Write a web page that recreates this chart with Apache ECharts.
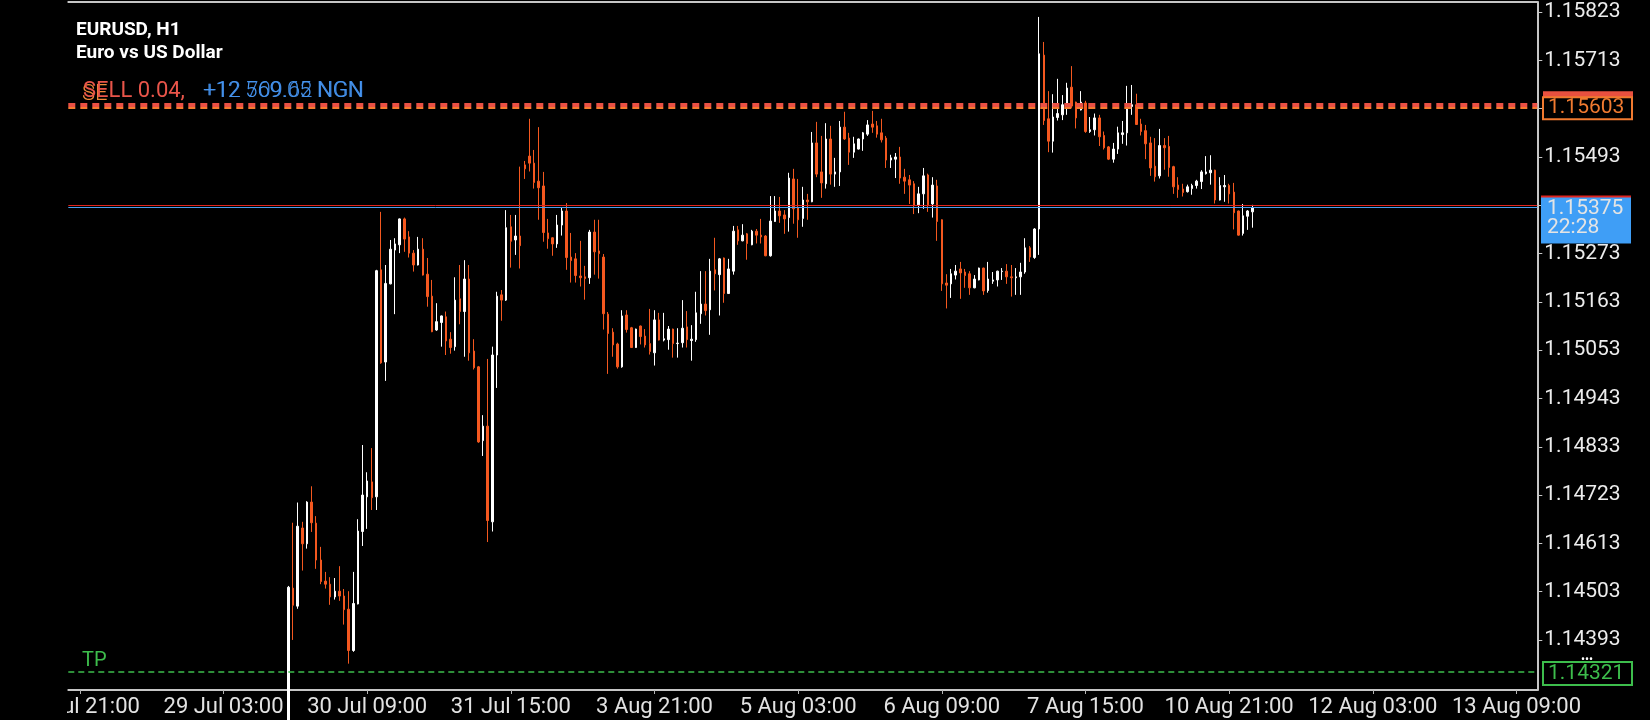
<!DOCTYPE html>
<html><head><meta charset="utf-8">
<script src="https://cdn.jsdelivr.net/npm/echarts@6/dist/echarts.min.js"></script>
<style>html,body{margin:0;padding:0;background:#000;}#c{width:1650px;height:720px;}</style>
</head><body><div id="c"></div>
<script>
// ---- data ----
const symbolTitle = 'EURUSD, H1';
const symbolName = 'Euro vs US Dollar';
const xTickLabels = ['27 Jul 21:00','29 Jul 03:00','30 Jul 09:00','31 Jul 15:00','3 Aug 21:00','5 Aug 03:00','6 Aug 09:00','7 Aug 15:00','10 Aug 21:00','12 Aug 03:00','13 Aug 09:00'];
const yTickValues = [1.14393,1.14503,1.14613,1.14723,1.14833,1.14943,1.15053,1.15163,1.15273,1.15383,1.15493,1.15603,1.15713,1.15823];
const slotCount = 317;        // bar slots on the time axis (incl. empty future)
const firstBarSlot = 47;      // slot of first loaded bar
const labelFirstSlot = 2;     // slot of first time label
const labelStep = 31;         // slots between time labels
const yMin = 1.14279, yMax = 1.15846;
const askPrice = 1.15383, bidPrice = 1.15379;
const positionPrice = 1.15611, orderPrice = 1.15605;
const orderLabel = '1.15603';
const tpPrice = 1.14321;
const bidLabel = ['1.15375','22:28'];
const tradeText = 'SELL 0.04,';
const profitTexts = ['+12 569.05 NGN','+12 709.62 NGN'];
// candles: [open, close, low, high]
const ohlc = [
[1.14200,1.14513,1.14180,1.14516],[1.14511,1.14472,1.14393,1.14660],[1.14470,1.14652,1.14464,1.14706],[1.14648,1.14612,1.14551,1.14662],
[1.14612,1.14707,1.14601,1.14709],[1.14707,1.14660,1.14639,1.14743],[1.14659,1.14575,1.14555,1.14675],[1.14575,1.14526,1.14520,1.14605],
[1.14527,1.14520,1.14510,1.14548],[1.14520,1.14491,1.14473,1.14536],[1.14491,1.14504,1.14485,1.14534],[1.14504,1.14493,1.14482,1.14561],
[1.14493,1.14462,1.14428,1.14509],[1.14463,1.14369,1.14339,1.14504],[1.14369,1.14476,1.14366,1.14548],[1.14475,1.14641,1.14474,1.14668],
[1.14640,1.14723,1.14607,1.14837],[1.14719,1.14755,1.14646,1.14775],[1.14753,1.14717,1.14689,1.14830],[1.14719,1.15234,1.14689,1.15236],
[1.15236,1.15024,1.15022,1.15368],[1.15026,1.15205,1.14983,1.15247],[1.15204,1.15283,1.15203,1.15304],[1.15281,1.15295,1.15135,1.15308],
[1.15293,1.15352,1.15274,1.15353],[1.15352,1.15306,1.15277,1.15355],[1.15311,1.15274,1.15264,1.15324],[1.15274,1.15247,1.15232,1.15281],
[1.15247,1.15283,1.15246,1.15311],[1.15283,1.15224,1.15223,1.15308],[1.15226,1.15175,1.15152,1.15263],[1.15176,1.15095,1.15094,1.15213],
[1.15099,1.15118,1.15097,1.15160],[1.15116,1.15131,1.15061,1.15132],[1.15129,1.15074,1.15042,1.15141],[1.15078,1.15059,1.15045,1.15094],
[1.15061,1.15167,1.15052,1.15219],[1.15170,1.15141,1.15112,1.15247],[1.15141,1.15215,1.15038,1.15258],[1.15215,1.15047,1.15029,1.15247],
[1.15051,1.15013,1.15009,1.15078],[1.15015,1.14844,1.14842,1.15017],[1.14847,1.14880,1.14812,1.14905],[1.14880,1.14665,1.14616,1.15033],
[1.14662,1.15042,1.14640,1.15061],[1.15042,1.15176,1.14967,1.15186],[1.15179,1.15167,1.15120,1.15190],[1.15167,1.15332,1.15165,1.15372],
[1.15334,1.15301,1.15241,1.15361],[1.15304,1.15313,1.15270,1.15361],
[1.15313,1.15291,1.15239,1.15471],[1.15475,1.15466,1.15443,1.15484],[1.15495,1.15479,1.15460,1.15580],[1.15479,1.15435,1.15421,1.15509],
[1.15438,1.15423,1.15350,1.15561],[1.15427,1.15321,1.15300,1.15459],[1.15320,1.15307,1.15284,1.15352],[1.15309,1.15295,1.15268,1.15310],
[1.15295,1.15338,1.15286,1.15361],[1.15338,1.15370,1.15314,1.15377],[1.15370,1.15264,1.15236,1.15388],[1.15265,1.15257,1.15207,1.15320],
[1.15261,1.15223,1.15207,1.15274],[1.15222,1.15218,1.15198,1.15302],[1.15220,1.15216,1.15168,1.15245],[1.15218,1.15322,1.15204,1.15327],
[1.15322,1.15277,1.15225,1.15350],[1.15279,1.15273,1.15216,1.15350],[1.15265,1.15136,1.15100,1.15272],[1.15135,1.15091,1.14999,1.15140],
[1.15094,1.15065,1.15038,1.15103],[1.15067,1.15015,1.15011,1.15070],[1.15015,1.15131,1.15013,1.15144],[1.15133,1.15100,1.15093,1.15144],
[1.15104,1.15059,1.15058,1.15106],[1.15059,1.15101,1.15058,1.15102],[1.15108,1.15084,1.15066,1.15109],[1.15085,1.15065,1.15059,1.15101],
[1.15068,1.15050,1.15043,1.15147],[1.15047,1.15122,1.15018,1.15144],[1.15122,1.15076,1.15075,1.15138],[1.15076,1.15079,1.15073,1.15138],
[1.15077,1.15101,1.15054,1.15108],[1.15101,1.15068,1.15036,1.15102],[1.15068,1.15069,1.15036,1.15103],[1.15070,1.15103,1.15059,1.15167],
[1.15106,1.15077,1.15059,1.15142],[1.15075,1.15078,1.15029,1.15110],[1.15077,1.15138,1.15072,1.15186],[1.15136,1.15158,1.15113,1.15233],
[1.15158,1.15143,1.15132,1.15233],[1.15145,1.15233,1.15088,1.15261],[1.15236,1.15227,1.15189,1.15309],[1.15225,1.15261,1.15132,1.15263],
[1.15263,1.15182,1.15161,1.15264],[1.15182,1.15238,1.15181,1.15261],[1.15233,1.15324,1.15225,1.15336],[1.15327,1.15302,1.15293,1.15336],
[1.15302,1.15315,1.15301,1.15340],[1.15318,1.15296,1.15259,1.15320],[1.15293,1.15324,1.15292,1.15327],[1.15324,1.15315,1.15296,1.15329],
[1.15315,1.15311,1.15296,1.15352],[1.15313,1.15268,1.15267,1.15315],[1.15268,1.15347,1.15266,1.15404],[1.15346,1.15370,1.15345,1.15404],
[1.15370,1.15359,1.15343,1.15402],[1.15361,1.15352,1.15318,1.15372],[1.15355,1.15445,1.15323,1.15457],[1.15443,1.15375,1.15341,1.15466],
[1.15378,1.15350,1.15309,1.15443],[1.15353,1.15395,1.15334,1.15425],[1.15395,1.15391,1.15350,1.15409],[1.15391,1.15525,1.15390,1.15550],
[1.15525,1.15454,1.15447,1.15573],[1.15459,1.15434,1.15400,1.15541],[1.15432,1.15534,1.15421,1.15570],[1.15534,1.15454,1.15430,1.15564],
[1.15454,1.15459,1.15425,1.15491],[1.15459,1.15561,1.15427,1.15575],[1.15561,1.15534,1.15532,1.15596],[1.15536,1.15504,1.15475,1.15548],
[1.15504,1.15523,1.15491,1.15539],[1.15511,1.15534,1.15510,1.15535],[1.15534,1.15548,1.15507,1.15550],[1.15545,1.15566,1.15541,1.15577],
[1.15568,1.15561,1.15548,1.15598],[1.15564,1.15545,1.15537,1.15575],[1.15548,1.15532,1.15526,1.15580],[1.15536,1.15486,1.15468,1.15541],
[1.15486,1.15491,1.15468,1.15498],[1.15488,1.15493,1.15445,1.15502],[1.15493,1.15445,1.15432,1.15516],[1.15447,1.15438,1.15409,1.15466],
[1.15441,1.15429,1.15386,1.15452],[1.15432,1.15382,1.15363,1.15438],
[1.15384,1.15409,1.15365,1.15425],[1.15409,1.15450,1.15375,1.15468],[1.15452,1.15384,1.15368,1.15455],[1.15386,1.15429,1.15355,1.15447],
[1.15427,1.15346,1.15302,1.15441],[1.15350,1.15204,1.15188,1.15351],[1.15206,1.15201,1.15148,1.15226],[1.15204,1.15227,1.15172,1.15238],
[1.15224,1.15233,1.15214,1.15247],[1.15238,1.15229,1.15170,1.15254],[1.15231,1.15223,1.15195,1.15238],[1.15227,1.15195,1.15179,1.15233],
[1.15195,1.15215,1.15194,1.15224],[1.15213,1.15240,1.15212,1.15241],[1.15240,1.15188,1.15179,1.15241],[1.15189,1.15215,1.15184,1.15254],
[1.15210,1.15213,1.15204,1.15231],[1.15213,1.15233,1.15198,1.15234],[1.15232,1.15233,1.15213,1.15240],[1.15233,1.15220,1.15204,1.15249],
[1.15220,1.15218,1.15175,1.15247],[1.15218,1.15220,1.15179,1.15240],[1.15220,1.15231,1.15179,1.15252],[1.15231,1.15286,1.15227,1.15308],
[1.15286,1.15265,1.15254,1.15290],[1.15264,1.15329,1.15261,1.15331],[1.15329,1.15728,1.15270,1.15812],[1.15725,1.15576,1.15566,1.15755],
[1.15580,1.15529,1.15504,1.15643],[1.15529,1.15584,1.15503,1.15636],[1.15583,1.15592,1.15576,1.15671],[1.15589,1.15612,1.15577,1.15634],
[1.15609,1.15650,1.15589,1.15662],[1.15652,1.15609,1.15605,1.15700],[1.15618,1.15582,1.15558,1.15619],[1.15600,1.15618,1.15599,1.15643],
[1.15616,1.15551,1.15548,1.15621],[1.15551,1.15555,1.15548,1.15584],[1.15555,1.15582,1.15542,1.15592],[1.15582,1.15539,1.15518,1.15589],
[1.15542,1.15514,1.15510,1.15551],[1.15516,1.15488,1.15486,1.15518],[1.15488,1.15511,1.15480,1.15525],[1.15511,1.15548,1.15500,1.15562],
[1.15544,1.15548,1.15523,1.15575],[1.15548,1.15609,1.15519,1.15655],[1.15608,1.15612,1.15589,1.15657],[1.15612,1.15567,1.15566,1.15637],
[1.15568,1.15551,1.15542,1.15580],[1.15553,1.15523,1.15488,1.15566],[1.15525,1.15468,1.15450,1.15539],[1.15472,1.15448,1.15437,1.15536],
[1.15450,1.15519,1.15444,1.15557],[1.15519,1.15514,1.15464,1.15536],[1.15517,1.15469,1.15448,1.15541],[1.15471,1.15425,1.15409,1.15473],
[1.15429,1.15419,1.15400,1.15447],[1.15420,1.15412,1.15403,1.15432],[1.15414,1.15425,1.15412,1.15430],[1.15421,1.15428,1.15407,1.15432],
[1.15428,1.15438,1.15421,1.15441],[1.15437,1.15459,1.15420,1.15463],[1.15455,1.15459,1.15453,1.15495],[1.15457,1.15463,1.15430,1.15497],
[1.15463,1.15395,1.15387,1.15464],[1.15395,1.15428,1.15394,1.15447],[1.15425,1.15428,1.15391,1.15452],[1.15428,1.15409,1.15387,1.15432],
[1.15413,1.15366,1.15328,1.15434],[1.15370,1.15315,1.15314,1.15371],[1.15319,1.15359,1.15314,1.15386],[1.15358,1.15370,1.15327,1.15372],
[1.15368,1.15377,1.15332,1.15384]
];

// ---- build ----
const categories = [];
for (let k = 0; k < slotCount; k++) {
  const d = k - labelFirstSlot;
  categories.push(d >= 0 && d % labelStep === 0 && xTickLabels[d / labelStep] ? xTickLabels[d / labelStep] : '');
}
const seriesData = [];
const emptyLine = [];
for (let k = 0; k < slotCount; k++) {
  const j = k - firstBarSlot;
  if (j >= 0 && j < ohlc.length) seriesData.push(ohlc[j]);
  else seriesData.push(['-','-','-','-']);
  emptyLine.push('-');
}
const FONT = 'Roboto, "Noto Sans", sans-serif';
const AX = '#c6c6c6';
const isTick = (i, v) => v !== '';
const hLine = (v, color, width, type) => ({ yAxis: v, lineStyle: { color, width, type } });

const chart = echarts.init(document.getElementById('c'));
chart.setOption({
  backgroundColor: '#000000',
  animation: false,
  grid: { left: 68.3, top: 2, width: 1469, height: 688, show: false },
  xAxis: [{
    type: 'category', data: categories, boundaryGap: true,
    axisLine: { show: true, lineStyle: { color: AX, width: 2 } },
    axisTick: { show: true, alignWithLabel: true, interval: isTick, length: 4, lineStyle: { color: '#b4b4b4', width: 1 } },
    axisLabel: { interval: isTick, color: '#e2e2e2', fontSize: 22, fontFamily: FONT, margin: 6 },
    splitLine: { show: false }
  }, {
    type: 'category', data: categories, position: 'top', boundaryGap: true,
    axisLine: { show: true, lineStyle: { color: AX, width: 2 } },
    axisTick: { show: false }, axisLabel: { show: false }, splitLine: { show: false }
  }],
  yAxis: {
    type: 'value', position: 'right', min: yMin, max: yMax, scale: true,
    axisLine: { show: true, lineStyle: { color: AX, width: 2 } },
    axisTick: { show: true, customValues: yTickValues, length: 5, lineStyle: { color: AX, width: 1 } },
    axisLabel: { customValues: yTickValues, formatter: v => Number(v).toFixed(5), color: '#ececec', fontSize: 21, fontFamily: FONT, margin: 7 },
    splitLine: { show: false }
  },
  series: [{
    type: 'candlestick', data: seriesData, barWidth: 2, clip: true, z: 2,
    itemStyle: { color: '#ffffff', color0: '#f4581f', borderColor: '#ffffff', borderColor0: '#f4581f', borderWidth: 1 }
  }, {
    type: 'line', data: emptyLine, z: 5, symbol: 'none', silent: true,
    markLine: {
      silent: true, symbol: ['none', 'none'], label: { show: false }, animation: false, precision: 5,
      data: [
        hLine(tpPrice, '#3dbd4c', 1.6, [6, 4]),
        hLine(askPrice, '#e0241e', 1, 'solid'),
        hLine(bidPrice, '#4a9ff0', 1, 'solid'),
        hLine(positionPrice, '#ea5044', 4, [7, 5]),
        hLine(orderPrice, '#f47a2e', 2, [7, 5])
      ]
    }
  }]
});

const yp = v => chart.convertToPixel({ yAxisIndex: 0 }, v);
const yo = yp(1.15603), yb = yp(bidPrice), yg = yp(tpPrice);
const txt = (x, y, s, fill, font, z) => ({ type: 'text', x, y, z: z || 100, style: { text: s, fill, font, align: 'left', verticalAlign: 'middle' } });
const rect = (x, y, w, h, style, z) => ({ type: 'rect', z: z || 100, shape: { x, y, width: w, height: h }, style });
chart.setOption({
  graphic: [
    rect(0, 691, 67, 29, { fill: '#000' }),
    txt(76, 30, symbolTitle, '#ffffff', 'bold 19px ' + FONT),
    txt(76, 53, symbolName, '#ffffff', 'bold 19px ' + FONT),
    txt(82, 94, 'SE', '#f08a3a', '300 22px ' + FONT, 99),
    txt(83, 91.5, tradeText, '#e9554a', '22px ' + FONT),
    txt(204, 91.5, profitTexts[1], '#3f86dd', '300 22px ' + FONT, 99),
    txt(203, 91.5, profitTexts[0], '#4694ee', '300 22px ' + FONT),
    txt(82, 661, 'TP', '#3dbd4c', '20px ' + FONT),
    // order price box
    rect(1543, yo - 17.5, 90, 6, { fill: '#e8503f' }),
    rect(1543, yo - 11.5, 89, 22, { fill: '#000', stroke: '#f07a30', lineWidth: 2 }),
    txt(1548, yo - 0.5, orderLabel, '#f07a30', '21px ' + FONT, 101),
    // bid box
    rect(1541, yb - 11.5, 90, 2.5, { fill: '#e0241e' }),
    rect(1541, yb - 9.5, 90, 46, { fill: '#3f9ef6' }),
    txt(1547, yb + 2, bidLabel[0], '#e4e4e4', '21px ' + FONT, 101),
    txt(1547, yb + 21, bidLabel[1], '#e4e4e4', '21px ' + FONT, 101),
    // tp box
    txt(1581, yg - 12, '•••', '#ffffff', '12px ' + FONT, 99),
    rect(1543, yg - 9.5, 89, 23, { fill: '#000', stroke: '#3dbd4c', lineWidth: 2 }),
    txt(1548, yg + 2, tpPrice.toFixed(5), '#3dbd4c', '21px ' + FONT, 101)
  ]
});
</script>
</body></html>
